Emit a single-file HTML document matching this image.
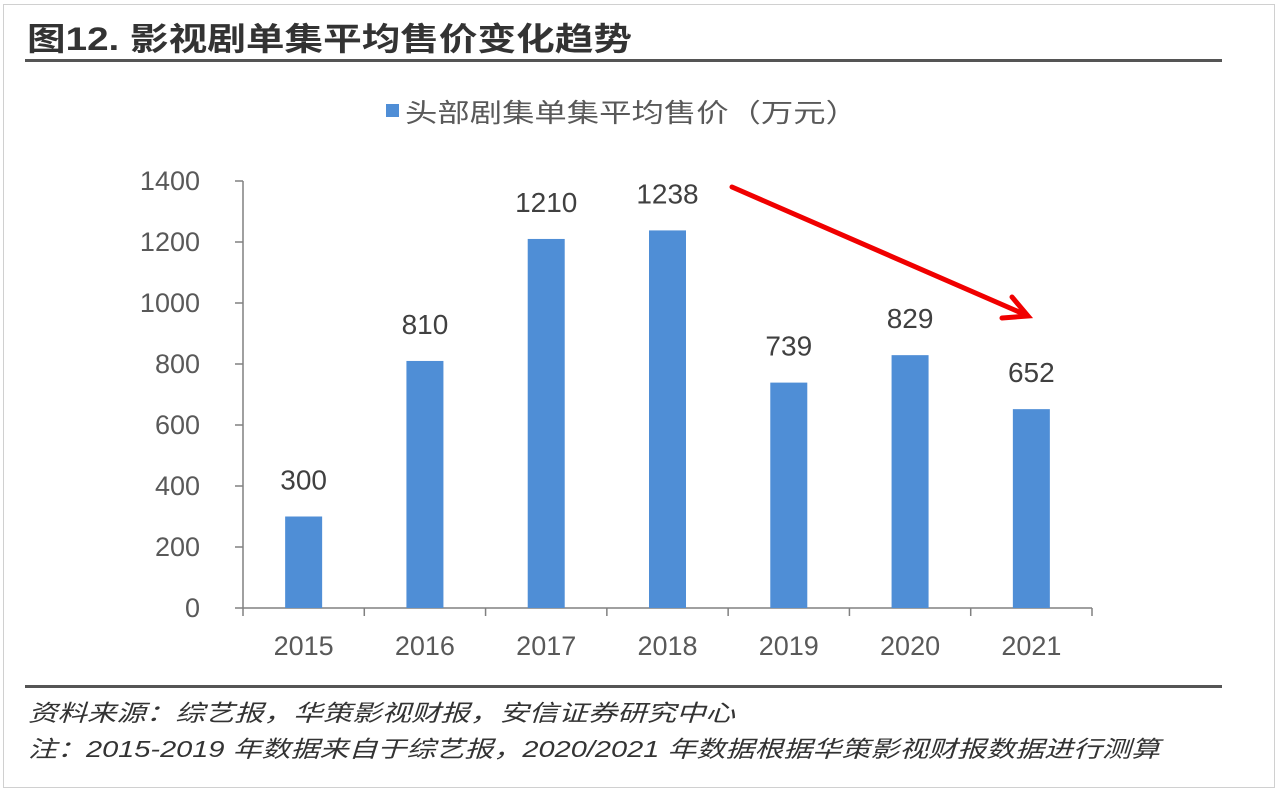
<!DOCTYPE html>
<html><head><meta charset="utf-8">
<style>
html,body{margin:0;padding:0;background:#fff;}
body{width:1280px;height:797px;position:relative;overflow:hidden;font-family:"Liberation Sans","Noto Sans CJK SC",sans-serif;}
#frame{position:absolute;left:3px;top:4px;width:1272px;height:784px;border:1px solid #d0d0d0;box-sizing:border-box;}
.rule{position:absolute;left:25px;width:1197px;background:#555;}
</style></head>
<body>
<div id="frame"></div>
<div class="rule" style="top:59px;height:3px;"></div>
<div class="rule" style="top:685px;height:3px;"></div>
<svg id="chart" width="1280" height="797" style="position:absolute;left:0;top:0;">
<text x="27" y="50" font-size="32" font-weight="bold" fill="#333" textLength="605" lengthAdjust="spacingAndGlyphs" font-family="Liberation Sans, Noto Sans CJK SC, sans-serif">图12. 影视剧单集平均售价变化趋势</text>
<text x="28" y="721" font-size="23" font-style="italic" fill="#333" textLength="707" lengthAdjust="spacingAndGlyphs" font-family="Liberation Sans, Noto Sans CJK SC, sans-serif">资料来源：综艺报，华策影视财报，安信证券研究中心</text>
<text x="28" y="757" font-size="23" font-style="italic" fill="#333" textLength="1132" lengthAdjust="spacingAndGlyphs" font-family="Liberation Sans, Noto Sans CJK SC, sans-serif">注：2015-2019 年数据来自于综艺报，2020/2021 年数据根据华策影视财报数据进行测算</text>
<g>
<rect x="386" y="104" width="13" height="13" fill="#4F8ED6"></rect>
<text x="405" y="122" font-size="26" fill="#595959" textLength="453" lengthAdjust="spacingAndGlyphs" font-family="Liberation Sans, Noto Sans CJK SC, sans-serif">头部剧集单集平均售价（万元）</text>
</g>
<g id="axes"></g>
<g id="bars"></g>
<g stroke="#F00000" stroke-width="5" fill="none" stroke-linecap="round">
<line x1="732" y1="187" x2="1026" y2="315"></line>
<polyline points="1012,297 1028,316 1002,318"></polyline>
</g>
</svg>
<script>
const categories = ["2015","2016","2017","2018","2019","2020","2021"];
const values = [300,810,1210,1238,739,829,652];
const yTicks = [0,200,400,600,800,1000,1200,1400];
const ns="http://www.w3.org/2000/svg";
const x0=243,x1=1092,y0=608,yTop=181,yMax=1400;
const band=(x1-x0)/categories.length;
function yScale(v){return y0-(v/yMax)*(y0-yTop);}
function xCenter(i){return x0+band*(i+0.5);}
function mk(tag,attrs,parent){const e=document.createElementNS(ns,tag);for(const k in attrs)e.setAttribute(k,attrs[k]);parent.appendChild(e);return e;}
const axes=document.getElementById('axes'),bars=document.getElementById('bars');
const F="Liberation Sans, sans-serif";
let ya=mk('line',{x1:x0,y1:yTop,x2:x0,y2:y0,stroke:'#808080','stroke-width':1.5},axes);


let xa=mk('line',{x1:x0,y1:y0,x2:x1,y2:y0,stroke:'#808080','stroke-width':1.5},axes);


yTicks.forEach(t=>{
 const y=yScale(t);
 const tk=mk('line',{x1:x0-8,y1:y,x2:x0,y2:y,stroke:'#808080','stroke-width':1.5},axes);
 
 
 const tl=mk('text',{x:200,y:y+9,'text-anchor':'end','font-size':27,fill:'#595959','font-family':F},axes);
 tl.textContent=t;
 
 
});
for(let i=0;i<=categories.length;i++){
 const x=x0+band*i;
 const tk=mk('line',{x1:x,y1:y0,x2:x,y2:y0+8,stroke:'#808080','stroke-width':1.5},axes);
 
 
}
categories.forEach((c,i)=>{
 const cx=xCenter(i),w=37,y=yScale(values[i]);
 const r=mk('rect',{x:cx-w/2,y:y,width:w,height:y0-y,fill:'#4F8ED6'},bars);
 
 
 const vl=mk('text',{x:cx,y:y-27,'text-anchor':'middle','font-size':28,fill:'#404040','font-family':F},bars);
 vl.textContent=values[i];
 
 
 const xl=mk('text',{x:cx,y:655,'text-anchor':'middle','font-size':27,fill:'#595959','font-family':F},axes);
 xl.textContent=c;
 
 
});
</script>
</body></html>
